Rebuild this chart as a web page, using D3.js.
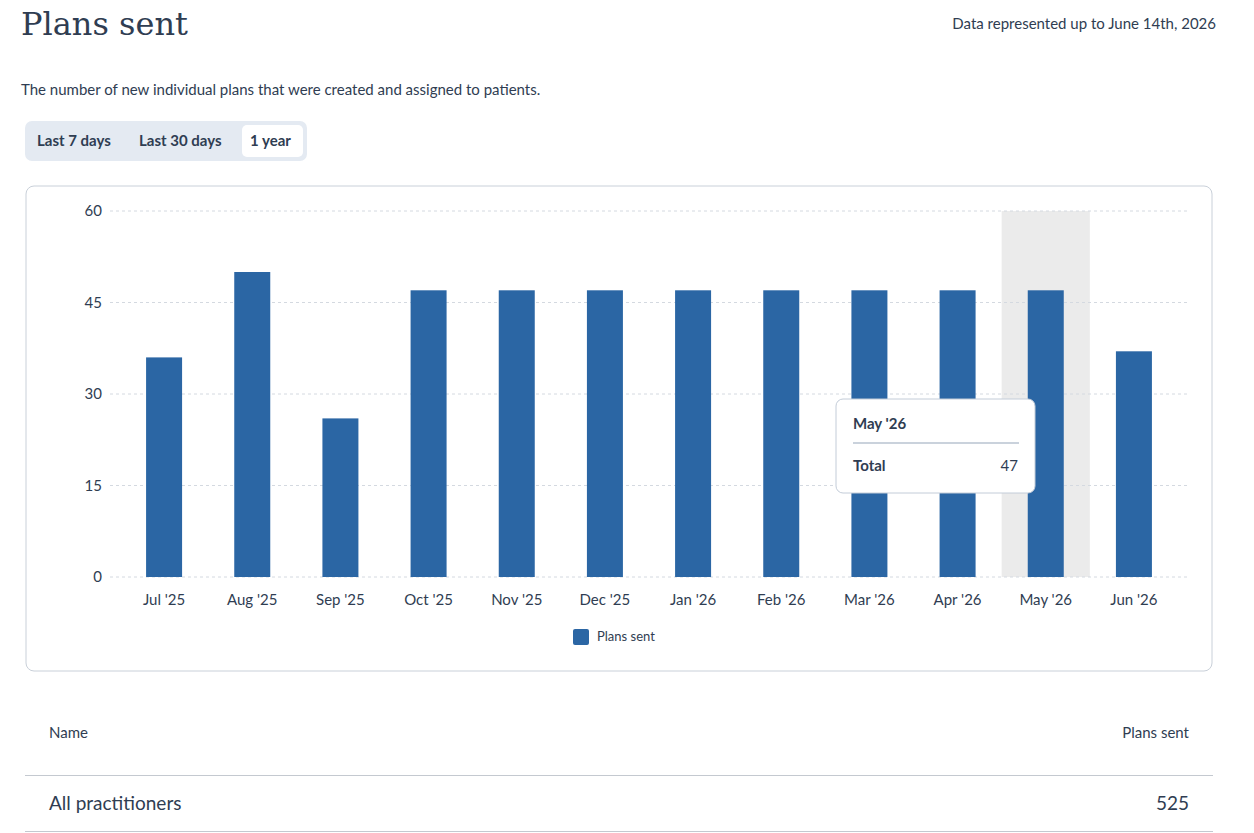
<!DOCTYPE html>
<html><head><meta charset="utf-8">
<script src="https://cdn.jsdelivr.net/npm/d3@7"></script>
<style>
body{margin:0;background:#fff;font-family:Lato,"Noto Sans",sans-serif;color:#2f3d52}
</style></head>
<body>
<script>
var months = ["Jul '25","Aug '25","Sep '25","Oct '25","Nov '25","Dec '25","Jan '26","Feb '26","Mar '26","Apr '26","May '26","Jun '26"];
var plansSent = [36,50,26,47,47,47,47,47,47,47,47,37];
var yTicks = [0,15,30,45,60];
var ranges = ["Last 7 days","Last 30 days","1 year"];
var highlighted = "May '26";

var ink = '#2f3d52';
var svg = d3.select('body').append('svg').attr('width',1254).attr('height',833);

svg.append('text').attr('x',21).attr('y',35).text('Plans sent')
   .attr('font-family','"DejaVu Serif","Liberation Serif",serif').attr('font-size',32).attr('fill',ink);
svg.append('text').attr('x',1216).attr('y',29).attr('text-anchor','end')
   .text('Data represented up to June 14th, 2026').attr('font-size',15).attr('fill',ink);
svg.append('text').attr('x',21).attr('y',95)
   .text('The number of new individual plans that were created and assigned to patients.')
   .attr('font-size',15).attr('fill',ink);

// range toggle
svg.append('rect').attr('x',25).attr('y',121).attr('width',282).attr('height',40).attr('rx',7).attr('fill','#e4eaf2');
svg.append('rect').attr('x',242).attr('y',125).attr('width',61).attr('height',32).attr('rx',5).attr('fill','#fff');
var rx = [37,139,250];
ranges.forEach(function(r,i){
  svg.append('text').attr('x',rx[i]).attr('y',146).text(r).attr('font-size',15).attr('font-weight',700).attr('fill',ink);
});

// card
svg.append('rect').attr('x',26).attr('y',186).attr('width',1186).attr('height',485).attr('rx',8)
   .attr('fill','#fff').attr('stroke','#c9d0d9');

var x = d3.scaleBand().domain(months).range([120,1178]);
var y = d3.scaleLinear().domain([0,60]).range([577,211]);

var g = svg.append('g');
g.append('rect').attr('x',x(highlighted)).attr('y',y(60)).attr('width',x.bandwidth())
 .attr('height',y(0)-y(60)).attr('fill','#ebebeb');

g.selectAll('.grid').data(yTicks).enter().append('line')
 .attr('x1',110).attr('x2',1187).attr('y1',function(d){return y(d);}).attr('y2',function(d){return y(d);})
 .attr('stroke','#d4d9e0').attr('stroke-dasharray','3,3');
g.selectAll('.yl').data(yTicks).enter().append('text')
 .attr('x',102).attr('y',function(d){return y(d)+5;}).attr('text-anchor','end')
 .text(function(d){return d;}).attr('font-size',15).attr('fill',ink);

var bw = 36;
g.selectAll('.bar').data(plansSent).enter().append('rect')
 .attr('x',function(d,i){return x(months[i])+x.bandwidth()/2-bw/2;})
 .attr('y',function(d){return y(d);}).attr('width',bw)
 .attr('height',function(d){return y(0)-y(d);}).attr('fill','#2b66a4');

g.selectAll('.xl').data(months).enter().append('text')
 .attr('x',function(d){return x(d)+x.bandwidth()/2;}).attr('y',605).attr('text-anchor','middle')
 .text(function(d){return d;}).attr('font-size',15).attr('fill',ink);

// legend
svg.append('rect').attr('x',573).attr('y',629).attr('width',16).attr('height',16).attr('rx',2).attr('fill','#2b66a4');
svg.append('text').attr('x',597).attr('y',641).text('Plans sent').attr('font-size',13).attr('fill',ink);

// tooltip
var hi = months.indexOf(highlighted);
svg.append('rect').attr('x',836).attr('y',399).attr('width',199).attr('height',94).attr('rx',7)
   .attr('fill','#fff').attr('stroke','#c3ccd8');
svg.append('text').attr('x',853).attr('y',429).text(highlighted).attr('font-size',15).attr('font-weight',700).attr('fill',ink);
svg.append('line').attr('x1',853).attr('x2',1019).attr('y1',443).attr('y2',443).attr('stroke','#b8c3d1').attr('stroke-width',1.5);
svg.append('text').attr('x',853).attr('y',471).text('Total').attr('font-size',15).attr('font-weight',700).attr('fill',ink);
svg.append('text').attr('x',1018).attr('y',471).attr('text-anchor','end').text(plansSent[hi]).attr('font-size',15).attr('fill',ink);

// table
svg.append('text').attr('x',49).attr('y',738).text('Name').attr('font-size',15).attr('fill',ink);
svg.append('text').attr('x',1189).attr('y',738).attr('text-anchor','end').text('Plans sent').attr('font-size',15).attr('fill',ink);
svg.append('line').attr('x1',25).attr('x2',1213).attr('y1',775.5).attr('y2',775.5).attr('stroke','#c4c9d0');
svg.append('text').attr('x',49).attr('y',810).text('All practitioners').attr('font-size',19).attr('fill',ink);
svg.append('text').attr('x',1189).attr('y',810).attr('text-anchor','end').text(d3.sum(plansSent)).attr('font-size',19).attr('fill',ink);
svg.append('line').attr('x1',25).attr('x2',1213).attr('y1',831.5).attr('y2',831.5).attr('stroke','#c4c9d0');
</script>
</body></html>
